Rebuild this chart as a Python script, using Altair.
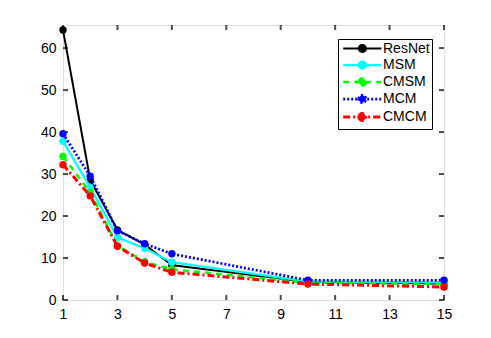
import altair as alt
import pandas as pd

x_vals = [1, 2, 3, 4, 5, 10, 15]
series_names = ["ResNet", "MSM", "CMSM", "MCM", "CMCM"]
resnet = [64.3, 28.6, 16.7, 13.2, 8.3, 4.3, 3.9]
msm = [37.8, 26.8, 14.9, 12.3, 9.0, 4.4, 4.2]
cmsm = [34.2, 25.6, 12.9, 9.1, 7.3, 4.1, 3.8]
mcm = [39.6, 29.5, 16.5, 13.4, 11.0, 4.7, 4.7]
cmcm = [32.2, 24.8, 12.8, 8.8, 6.6, 3.8, 3.1]
x_ticks = [1, 3, 5, 7, 9, 11, 13, 15]
y_ticks = [0, 10, 20, 30, 40, 50, 60]

colors = ["#000000", "#00FFFF", "#00FF00", "#0000FF", "#FF0000"]
dashes = [[1, 0], [1, 0], [6, 5], [2, 2], [7, 3, 2, 3]]
widths = [2, 3, 2.5, 2.5, 2.5]

rows = []
for name, vals in zip(series_names, [resnet, msm, cmsm, mcm, cmcm]):
    for xv, yv in zip(x_vals, vals):
        rows.append({"series": name, "x": xv, "y": yv})
df = pd.DataFrame(rows)

W, H = 381, 275
xs = alt.Scale(domain=[1, 15], nice=False, zero=False)
ys = alt.Scale(domain=[0, 65.5], nice=False, zero=False)
cscale = alt.Scale(domain=series_names, range=colors)
dscale = alt.Scale(domain=series_names, range=dashes)
wscale = alt.Scale(domain=series_names, range=widths)

# legend glyph: a line segment with a dot in its middle
sym = ("M-0.74,0H5.15"
       "M1.67,0A0.54,0.54,0,1,1,2.75,0A0.54,0.54,0,1,1,1.67,0Z")
legend = alt.Legend(
    title=None, orient="none", legendX=275, legendY=14,
    symbolType=sym, symbolSize=169, symbolStrokeWidth=2.5,
    labelFont="Liberation Sans", labelFontSize=14, labelColor="black",
    labelOffset=27, rowPadding=-5, padding=2,
    fillColor="white", strokeColor="black",
)

xaxis = alt.Axis(values=x_ticks, ticks=False, domain=False, grid=False,
                 labelFont="Liberation Sans", labelFontSize=14, labelColor="black",
                 labelPadding=7, labelFlush=False, title=None)
yaxis = alt.Axis(values=y_ticks, ticks=False, domain=False, grid=False,
                 labelFont="Liberation Sans", labelFontSize=14, labelColor="black",
                 labelPadding=7, labelFlush=False, title=None)

base = alt.Chart(df)
layers = []
for i, name in enumerate(series_names):
    sub = base.transform_filter(alt.datum.series == name)
    line = sub.mark_line().encode(
        x=alt.X("x:Q", scale=xs, axis=xaxis),
        y=alt.Y("y:Q", scale=ys, axis=yaxis),
        stroke=alt.Stroke("series:N", scale=cscale, legend=legend),
        strokeDash=alt.StrokeDash("series:N", scale=dscale, legend=legend),
        strokeWidth=alt.StrokeWidth("series:N", scale=wscale, legend=None),
    )
    pts = sub.mark_circle(size=55, opacity=1).encode(
        x=alt.X("x:Q", scale=xs),
        y=alt.Y("y:Q", scale=ys),
        fill=alt.Fill("series:N", scale=cscale, legend=legend),
    )
    layers += [line, pts]

tick_len = 5
xt = pd.DataFrame({"x": x_ticks})
yt = pd.DataFrame({"y": y_ticks})
bottom_ticks = alt.Chart(xt).mark_tick(orient="vertical", size=tick_len, thickness=2, color="black").encode(
    x=alt.X("x:Q", scale=xs), y=alt.value(H - tick_len / 2))
top_ticks = alt.Chart(xt).mark_tick(orient="vertical", size=tick_len, thickness=2, color="black").encode(
    x=alt.X("x:Q", scale=xs), y=alt.value(tick_len / 2))
left_ticks = alt.Chart(yt).mark_tick(orient="horizontal", size=tick_len, thickness=2, color="black").encode(
    y=alt.Y("y:Q", scale=ys), x=alt.value(tick_len / 2))
right_ticks = alt.Chart(yt).mark_tick(orient="horizontal", size=tick_len, thickness=2, color="black").encode(
    y=alt.Y("y:Q", scale=ys), x=alt.value(W - tick_len / 2))

chart = alt.layer(bottom_ticks, top_ticks, left_ticks, right_ticks, *layers).properties(
    width=W, height=H,
    autosize=alt.AutoSizeParams(type="none"),
    padding={"left": 55, "top": 17, "right": 39, "bottom": 30},
).configure_view(stroke="black", strokeWidth=2).configure_legend(
    strokeWidth=2
).configure(background="white")

chart.save("out.html", embed_options={"renderer": "svg", "actions": False})
